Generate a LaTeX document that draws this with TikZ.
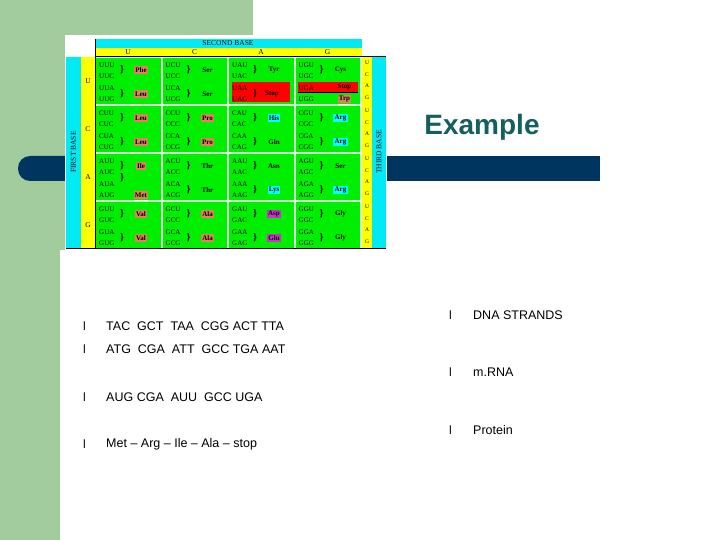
\documentclass[tikz,border=0pt]{standalone}
\usepackage{fontspec}
\setmainfont{Liberation Sans}
\newfontfamily\tabfont{Liberation Serif}
\definecolor{slgreen}{HTML}{A3CC9E}
\definecolor{navy}{HTML}{003560}
\definecolor{teal}{HTML}{15605F}
\definecolor{tgreen}{HTML}{00EE00}
\definecolor{tyellow}{HTML}{FFFF00}
\definecolor{tcyan}{HTML}{00EAF5}
\definecolor{aorange}{HTML}{E08060}
\definecolor{acyan}{HTML}{00FFFF}
\definecolor{amag}{HTML}{CC33CC}
\definecolor{ared}{HTML}{FF0000}
\definecolor{none}{HTML}{00EE00}
\tikzset{
 cod/.style={font=\tabfont\fontsize{7}{7}\selectfont,anchor=west,inner sep=0pt},
 aa/.style={font=\tabfont\bfseries\fontsize{7}{7}\selectfont,inner sep=1.2pt},
 brc/.style={font=\tabfont\bfseries\fontsize{10}{10}\selectfont,inner sep=0pt},
 bul/.style={font=\fontsize{12}{12}\selectfont,anchor=west,inner sep=0pt},
 txt/.style={font=\fontsize{12.5}{14}\selectfont,anchor=west,inner sep=0pt},
 hdr/.style={font=\tabfont\fontsize{7.5}{7.5}\selectfont,inner sep=0pt}
}
\newcommand{\cell}[9]{%
 \pgfmathsetmacro{\cx}{95+#1*66.5}\pgfmathsetmacro{\cy}{57+#2*48}
 \fill[tgreen] (\cx+1,\cy+1) rectangle ++(64.5,46);
 #9
 \node[cod] (c#1#2a) at (\cx+4,\cy+8) {#3};
 \node[cod] (c#1#2b) at (\cx+4,\cy+19) {#4};
 \node[cod] (c#1#2c) at (\cx+4,\cy+31) {#5};
 \node[cod] (c#1#2d) at (\cx+4,\cy+42) {#6};
 \node[brc] (b#1#2a) at (\cx+27,\cy+13) {\}};
 \node[aa,fill=#8] (a#1#2a) at (\cx+46,\cy+13) {#7};
}
\begin{document}
\begin{tikzpicture}[x=1pt,y=-1pt]
\useasboundingbox (0,0) rectangle (720,540);
\fill[white] (0,0) rectangle (720,540);
\fill[slgreen] (0,0) rectangle (253,250);
\fill[slgreen] (0,0) rectangle (60,540);
\fill[navy,rounded corners=12pt] (18,156) rectangle (120,181);
\fill[navy] (380,156) rectangle (600,181);
\fill[white] (65,35) rectangle (387,250);
\fill[white!85!green] (95,55) rectangle (362,250);
\fill[tcyan] (95,39) rectangle (362,48);
\fill[tyellow] (95,48) rectangle (362,56);
\fill[tcyan] (66,57) rectangle (81,248);
\fill[tyellow] (81,57) rectangle (95,248);
\fill[tyellow] (362,57) rectangle (372,248);
\fill[tcyan] (372,57) rectangle (386,248);
\draw[line width=0.6pt] (95,56.5)--(386,56.5) (95,39)--(95,248) (66,248)--(386,248);
\node[hdr] (sb) at (228,43.5) {SECOND BASE};
\node[hdr,rotate=90] (fb) at (73.5,152) {FIRST BASE};
\node[hdr,rotate=90] (tb) at (379,152) {THIRD BASE};
\foreach \l [count=\i from 0] in {U,C,A,G}{
 \node[hdr] (h\i) at (128+\i*66.5,52) {\l};
 \node[hdr] (v\i) at (88,81+\i*48) {\l};
 \foreach \m [count=\j from 0] in {U,C,A,G}{
  \node[hdr,font=\tabfont\fontsize{5.5}{5.5}\selectfont] (r\i\j) at (367,63+\i*48+\j*11.5) {\m};
 }
}
\cell{0}{0}{UUU}{UUC}{UUA}{UUG}{Phe}{aorange}{\node[brc] at (\cx+27,\cy+37) {\}};\node[aa,fill=aorange] at (\cx+46,\cy+37) {Leu};}
\cell{1}{0}{UCU}{UCC}{UCA}{UCG}{Ser}{none}{\node[brc] at (\cx+27,\cy+37) {\}};\node[aa] at (\cx+46,\cy+37) {Ser};}
\cell{2}{0}{UAU}{UAC}{UAA}{UAG}{Tyr}{none}{\fill[ared] (\cx+4,\cy+25) rectangle ++(58,20);
 \node[brc] at (\cx+27,\cy+37) {\}};\node[aa] at (\cx+44,\cy+37) {Stop};}
\cell{3}{0}{UGU}{UGC}{UGA}{UGG}{Cys}{none}{\fill[ared] (\cx+3,\cy+25) rectangle ++(60,10);
 \draw (\cx+3,\cy+35)--++(60,0);
 \node[aa] at (\cx+50,\cy+30) {Stop};
 \node[aa,fill=aorange] at (\cx+50,\cy+42) {Trp};}
\cell{0}{1}{CUU}{CUC}{CUA}{CUG}{Leu}{aorange}{\node[brc] at (\cx+27,\cy+37) {\}};\node[aa,fill=aorange] at (\cx+46,\cy+37) {Leu};}
\cell{1}{1}{CCU}{CCC}{CCA}{CCG}{Pro}{aorange}{\node[brc] at (\cx+27,\cy+37) {\}};\node[aa,fill=aorange] at (\cx+46,\cy+37) {Pro};}
\cell{2}{1}{CAU}{CAC}{CAA}{CAG}{His}{acyan}{\node[brc] at (\cx+27,\cy+37) {\}};\node[aa] at (\cx+46,\cy+37) {Gln};}
\cell{3}{1}{CGU}{CGC}{CGA}{CGG}{Arg}{acyan}{\node[brc] at (\cx+27,\cy+37) {\}};\node[aa,fill=acyan] at (\cx+46,\cy+37) {Arg};}
\cell{0}{2}{AUU}{AUC}{AUA}{AUG}{Ile}{aorange}{\node[brc] at (\cx+27,\cy+25) {\}};\node[aa,fill=aorange] at (\cx+46,\cy+42) {Met};}
\cell{1}{2}{ACU}{ACC}{ACA}{ACG}{Thr}{none}{\node[brc] at (\cx+27,\cy+37) {\}};\node[aa] at (\cx+46,\cy+37) {Thr};}
\cell{2}{2}{AAU}{AAC}{AAA}{AAG}{Asn}{none}{\node[brc] at (\cx+27,\cy+37) {\}};\node[aa,fill=acyan] at (\cx+46,\cy+37) {Lys};}
\cell{3}{2}{AGU}{AGC}{AGA}{AGG}{Ser}{none}{\node[brc] at (\cx+27,\cy+37) {\}};\node[aa,fill=acyan] at (\cx+46,\cy+37) {Arg};}
\cell{0}{3}{GUU}{GUC}{GUA}{GUG}{Val}{aorange}{\node[brc] at (\cx+27,\cy+37) {\}};\node[aa,fill=aorange] at (\cx+46,\cy+37) {Val};}
\cell{1}{3}{GCU}{GCC}{GCA}{GCG}{Ala}{aorange}{\node[brc] at (\cx+27,\cy+37) {\}};\node[aa,fill=aorange] at (\cx+46,\cy+37) {Ala};}
\cell{2}{3}{GAU}{GAC}{GAA}{GAG}{Asp}{amag}{\node[brc] at (\cx+27,\cy+37) {\}};\node[aa,fill=amag] at (\cx+46,\cy+37) {Glu};}
\cell{3}{3}{GGU}{GGC}{GGA}{GGG}{Gly}{none}{\node[brc] at (\cx+27,\cy+37) {\}};\node[aa] at (\cx+46,\cy+37) {Gly};}
\node[font=\bfseries\fontsize{28}{28}\selectfont,text=teal] (title) at (482,127) {Example};
\node[bul] (l1) at (83,326) {l}; \node[txt] (t1) at (106,326) {TAC\ \ GCT\ \ TAA\ \ CGG ACT TTA};
\node[bul] (l2) at (83,349) {l}; \node[txt] (t2) at (106,349) {ATG\ \ CGA\ \ ATT\ \ GCC TGA AAT};
\node[bul] (l3) at (83,397) {l}; \node[txt] (t3) at (106,397) {AUG CGA\ \ AUU\ \ GCC UGA};
\node[bul] (l4) at (83,444) {l}; \node[txt] (t4) at (106,444) {Met -- Arg -- Ile -- Ala -- stop};
\node[bul] (r1) at (449,315) {l}; \node[txt] (u1) at (473,315) {DNA STRANDS};
\node[bul] (r2) at (449,372) {l}; \node[txt] (u2) at (473,372) {m.RNA};
\node[bul] (r3) at (449,430) {l}; \node[txt] (u3) at (473,430) {Protein};
\end{tikzpicture}
\end{document}
